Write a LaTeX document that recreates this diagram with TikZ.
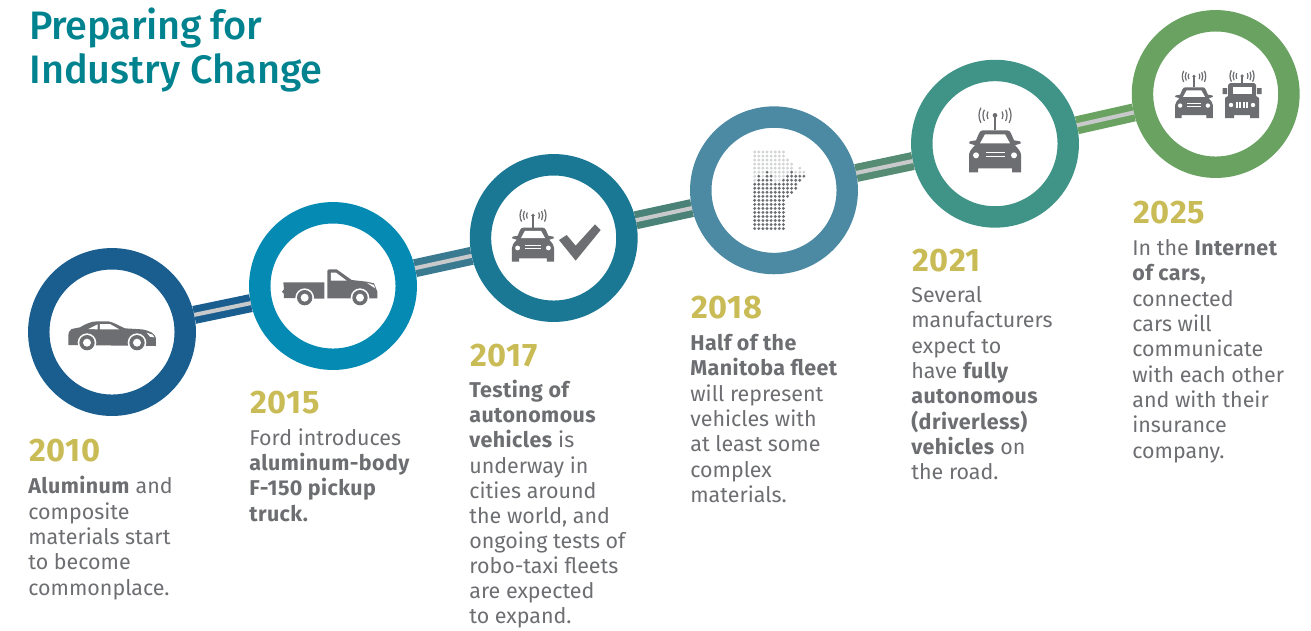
\documentclass[tikz,border=0pt]{standalone}
\usepackage{fontspec}
\setmainfont[BoldFeatures={LetterSpace=2}]{Fira Sans}
\newfontfamily\headfont{Fira Sans Medium}
\usetikzlibrary{positioning}

\definecolor{titleteal}{HTML}{00838F}
\definecolor{yeargold}{HTML}{C9BB55}
\definecolor{icongrey}{HTML}{6D6E71}
\definecolor{stripegrey}{HTML}{C8C9CB}
\definecolor{maplight}{HTML}{D3D4D6}
\definecolor{ringA}{HTML}{1A5E8F}
\definecolor{ringB}{HTML}{058BB3}
\definecolor{ringC}{HTML}{1A7895}
\definecolor{ringD}{HTML}{4C89A3}
\definecolor{ringE}{HTML}{3F9387}
\definecolor{ringF}{HTML}{6AA262}
\definecolor{roadB}{HTML}{3A7A90}
\definecolor{roadC}{HTML}{4A8278}
\definecolor{roadD}{HTML}{568C74}

\newcommand{\signalwaves}[2]{%
  \fill[icongrey] (0,#1) circle ({.58*#2});
  \foreach \rad in {2,3,4}{
    \draw[icongrey,line width=.7pt] ([shift={(-28:\rad*#2)}]0,#1) arc[start angle=-28,end angle=28,radius=\rad*#2];
    \draw[icongrey,line width=.7pt] ([shift={(152:\rad*#2)}]0,#1) arc[start angle=152,end angle=208,radius=\rad*#2];
  }}
\newcommand{\sidewheel}[2]{%
  \fill[white] (#1,#2) circle (28);
  \fill[icongrey] (#1,#2) circle (23);
  \fill[white] (#1,#2) circle (12);}

\tikzset{
  ringnode/.style={circle,draw=#1,fill=white,line width=12.2pt,minimum size=2.93cm,inner sep=0pt},
  roadlink/.style={draw=#1,line width=4pt,double=stripegrey,double distance=2.3pt},
  yearnode/.style={text=yeargold,font={\fontsize{18.5pt}{20pt}\bfseries\addfontfeature{LetterSpace=3.5}\selectfont},inner sep=0pt,anchor=base west},
  bodynode/.style={text=icongrey,font={\fontsize{12.2pt}{14.42pt}\selectfont},inner sep=0pt,align=left,anchor=north west},
  pics/frontcar/.style={code={
    \fill[icongrey] (-26,0) -- (-26,-17) .. controls (-26,-20) and (-24,-23) .. (-20,-27) -- (-26,-29) -- (-25,-31) -- (-19,-32)
      -- (-16,-39) .. controls (-15,-41) and (-14,-42) .. (-12,-42) -- (12,-42) .. controls (14,-42) and (15,-41) .. (16,-39)
      -- (19,-32) -- (25,-31) -- (26,-29) -- (20,-27) .. controls (24,-23) and (26,-20) .. (26,-17) -- (26,0) -- (17,0) -- (17,-4) -- (-17,-4) -- (-17,0) -- cycle;
    \fill[white] (-15,-29) -- (-10,-38) -- (10,-38) -- (15,-29) -- cycle;
    \fill[white] (-19,-17) circle (3) (19,-17) circle (3);
    \draw[white,line width=.8pt] (-9.5,-20) -- (9.5,-20) (-9.5,-16) -- (9.5,-16);
    \draw[icongrey,line width=1pt] (0,-42) -- (0,-57);
    \signalwaves{-57}{4}
  }},
  pics/jeepcar/.style={code={
    \fill[icongrey] (-17,0) -- (-17,-20) -- (-14,-22) -- (-14,-33) -- (-12,-35) -- (12,-35) -- (14,-33) -- (14,-22) -- (17,-20) -- (17,0) -- (8,0) -- (8,-3) -- (-8,-3) -- (-8,0) -- cycle;
    \fill[icongrey] (-19.5,-30) rectangle (-15,-24) (15,-30) rectangle (19.5,-24);
    \fill[white] (-9.5,-31) rectangle (9.5,-24);
    \fill[white] (-11,-13) circle (2.2) (11,-13) circle (2.2);
    \draw[white,line width=1pt] (-5,-16) -- (-5,-10) (-1.7,-16) -- (-1.7,-10) (1.7,-16) -- (1.7,-10) (5,-16) -- (5,-10);
    \draw[icongrey,line width=.8pt] (0,-35) -- (0,-42);
    \signalwaves{-42}{3}
  }}
}

\begin{document}
\begin{tikzpicture}[x=.02cm,y=-.02cm]
\useasboundingbox (0,0) rectangle (1311,630);

% rings
\node[ringnode=ringA] (ring2010) at (112,332) {};
\node[ringnode=ringB] (ring2015) at (333,286) {};
\node[ringnode=ringC] (ring2017) at (553.7,238) {};
\node[ringnode=ringD] (ring2018) at (774,190.3) {};
\node[ringnode=ringE] (ring2021) at (995,143.7) {};
\node[ringnode=ringF] (ring2025) at (1215.7,94) {};

% road between the rings
\draw[roadlink=ringA] (ring2010) -- (ring2015);
\draw[roadlink=roadB] (ring2015) -- (ring2017);
\draw[roadlink=roadC] (ring2017) -- (ring2018);
\draw[roadlink=roadD] (ring2018) -- (ring2021);
\draw[roadlink=ringF] (ring2021) -- (ring2025);

% title
\node[text=titleteal,font={\fontsize{22.6pt}{25.4pt}\headfont\selectfont},inner sep=0pt,align=left,anchor=north west] (title) at (29,7) {{\addfontfeature{LetterSpace=-1}Preparing for}\\Industry Change};

% side car, 2010
\begin{scope}[shift={(0,230)},scale=1/3]
  \fill[icongrey] (205,320) .. controls (205,308) and (208,300) .. (215,297) -- (240,292) .. controls (255,283) and (270,275) .. (290,274)
    -- (325,274) .. controls (340,276) and (358,288) .. (375,295) -- (425,298) .. controls (450,302) and (465,310) .. (468,325) -- (468,348) -- (205,345) -- cycle;
  \fill[white] (265,297) -- (293,283) -- (293,298) -- cycle (300,282) -- (330,282) -- (358,298) -- (300,298) -- cycle;
  \fill[white] (440,308) -- (458,314) -- (463,322) -- (450,320) -- cycle;
  \sidewheel{261}{338}
  \sidewheel{411}{338}
\end{scope}

% pickup, 2015
\begin{scope}[shift={(0,230)},scale=1/3]
  \fill[icongrey] (850,157) -- (973,157) -- (973,206) -- (852,204) -- (852,192) -- (846,185) -- (852,178) -- cycle;
  \fill[icongrey] (982,205) -- (982,122) .. controls (982,119) and (984,118) .. (987,118) -- (1010,118) -- (1055,150) -- (1100,155) -- (1122,160) -- (1132,185) -- (1132,205) -- cycle;
  \fill[white] (993,128) -- (1008,128) -- (1040,152) -- (993,152) -- cycle;
  \fill[white] (1100,158) -- (1122,165) -- (1125,175) -- cycle;
  \sidewheel{914}{203}
  \sidewheel{1080}{203}
\end{scope}

% autonomous car and check mark, 2017
\pic[scale=.81] at (533,261.7) {frontcar};
\begin{scope}[shift={(460,100)},scale=1/3]
  \fill[icongrey] (297,420) -- (320,405) -- (347,437) -- (405,373) -- (422,390) -- (347,482) -- cycle;
\end{scope}

% dotted map, 2018
\begin{scope}[shift={(754.7,152)}]
  \foreach \row/\cols in {0/{0,...,7},1/{0,...,7},2/{0,...,8},3/{0,...,9},4/{0,...,9,11},5/{0,1,2,4,5,6,7,8,10,11,12},6/{0,2,5,6,7},7/{0,5,6}}
    \foreach \col in \cols
      \fill[maplight] (\col*4.1,\row*4.03) circle (1.6);
  \foreach \row/\cols in {5/{3,9},6/{1,3,4,8,9,10,11,12},7/{1,2,3,4,7,8,9,10,11},8/{0,...,10},9/{0,...,10},10/{0,...,9},11/{0,...,8},12/{0,...,7},13/{0,...,7},14/{0,...,7},15/{0,...,7},16/{0,...,7},17/{0,...,7},18/{0,...,7},19/{0,...,7}}
    \foreach \col in \cols
      \fill[icongrey] (\col*4.1,\row*4.03) circle (1.6);
\end{scope}

% connected cars
\pic at (995,172.3) {frontcar};
\pic[scale=.73] at (1194,118) {frontcar};
\pic at (1242,118) {jeepcar};

% years and captions
\node[yearnode] (year2010) at (29,461) {2010};
\node[bodynode] (text2010) at (28,476) {\textbf{Aluminum} and\\composite\\materials start\\to become\\commonplace.};
\node[yearnode] (year2015) at (250,413) {2015};
\node[bodynode] (text2015) at (249,428) {Ford introduces\\\textbf{aluminum-body}\\\textbf{F-150 pickup}\\\textbf{truck.}};
\node[yearnode] (year2017) at (470,366) {2017};
\node[bodynode,font={\fontsize{12.2pt}{14.3pt}\selectfont}] (text2017) at (469,380) {\textbf{Testing of}\\\textbf{autonomous}\\\textbf{vehicles} is\\underway in\\cities around\\the world, and\\ongoing tests of\\robo-taxi fleets\\are expected\\to expand.};
\node[yearnode] (year2018) at (691,318) {2018};
\node[bodynode] (text2018) at (690,334) {\textbf{Half of the}\\\textbf{Manitoba fleet}\\will represent\\vehicles with\\at least some\\complex\\materials.};
\node[yearnode] (year2021) at (912,271) {2021};
\node[bodynode] (text2021) at (911,286) {Several\\manufacturers\\expect to\\have \textbf{fully}\\\textbf{autonomous}\\\textbf{(driverless)}\\\textbf{vehicles} on\\the road.};
\node[yearnode] (year2025) at (1133,223) {2025};
\node[bodynode] (text2025) at (1132,239) {In the \textbf{Internet}\\\textbf{of cars,}\\connected\\cars will\\communicate\\with each other\\and with their\\insurance\\company.};
\end{tikzpicture}
\end{document}
